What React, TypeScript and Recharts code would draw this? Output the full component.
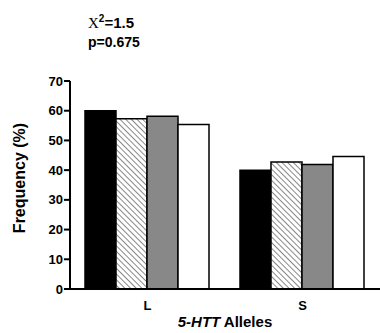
import { BarChart, Bar, XAxis, YAxis } from 'recharts';

// allele frequencies (%) per group
const alleles = ['L', 'S'];
const groupA = [60.0, 40.0];
const groupB = [57.3, 42.7];
const groupC = [58.1, 41.9];
const groupD = [55.4, 44.6];
const yTicks = [0, 10, 20, 30, 40, 50, 60, 70];

const data = alleles.map((allele, i) => ({
    allele,
    a: groupA[i],
    b: groupB[i],
    c: groupC[i],
    d: groupD[i],
}));

const FONT = 'Arial, "Liberation Sans", Helvetica, sans-serif';

export default function App() {
    return (
        <div style={{ position: 'absolute', left: 0, top: 0, width: 380, height: 333, background: '#fff', fontFamily: FONT }}>
            <BarChart
                width={380}
                height={333}
                data={data}
                margin={{ top: 81, right: 0, left: 0, bottom: 14 }}
                barCategoryGap={15}
                barGap={0}
            >
                <defs>
                    <pattern id="hatch" width="4" height="4" patternUnits="userSpaceOnUse" patternTransform="rotate(-45)">
                        <rect width="4" height="4" fill="#fff" />
                        <line x1="0" y1="0" x2="0" y2="4" stroke="#555" strokeWidth="1.4" />
                    </pattern>
                </defs>
                <XAxis
                    dataKey="allele"
                    height={30}
                    axisLine={{ stroke: '#000', strokeWidth: 2 }}
                    tickLine={false}
                    tick={{ fill: '#000', fontSize: 13, fontWeight: 700, fontFamily: FONT }}
                    tickMargin={6}
                />
                <YAxis
                    width={70}
                    domain={[0, 70]}
                    ticks={yTicks}
                    interval={0}
                    axisLine={{ stroke: '#000', strokeWidth: 2 }}
                    tickLine={{ stroke: '#000', strokeWidth: 2 }}
                    tickSize={6}
                    tickMargin={1}
                    tick={{ fill: '#000', fontSize: 13, fontWeight: 700, fontFamily: FONT }}
                />
                <Bar dataKey="a" fill="#000" stroke="#000" strokeWidth={1.5} isAnimationActive={false} />
                <Bar dataKey="b" fill="url(#hatch)" stroke="#000" strokeWidth={1.5} isAnimationActive={false} />
                <Bar dataKey="c" fill="#888" stroke="#000" strokeWidth={1.5} isAnimationActive={false} />
                <Bar dataKey="d" fill="#fff" stroke="#000" strokeWidth={1.5} isAnimationActive={false} />
                <text x={88} y={28} fontSize={15} fontWeight={700} fill="#000">
                    <tspan fontFamily='"Liberation Serif", "Times New Roman", serif' fontWeight={400}>X</tspan>
                    <tspan fontSize={10} dy={-6}>2</tspan>
                    <tspan dy={6}>=1.5</tspan>
                </text>
                <text x={88} y={47} fontSize={14} fontWeight={700} fill="#000" fontFamily={FONT}>p=0.675</text>
                <text
                    x={25}
                    y={178}
                    transform="rotate(-90 25 178)"
                    textAnchor="middle"
                    fontSize={16}
                    fontWeight={700}
                    fill="#000"
                    fontFamily={FONT}
                >
                    Frequency (%)
                </text>
                <text x={225} y={327} textAnchor="middle" fontSize={15} fontWeight={700} fill="#000" fontFamily={FONT}>
                    <tspan fontStyle="italic">5-HTT</tspan> Alleles
                </text>
            </BarChart>
        </div>
    );
}
